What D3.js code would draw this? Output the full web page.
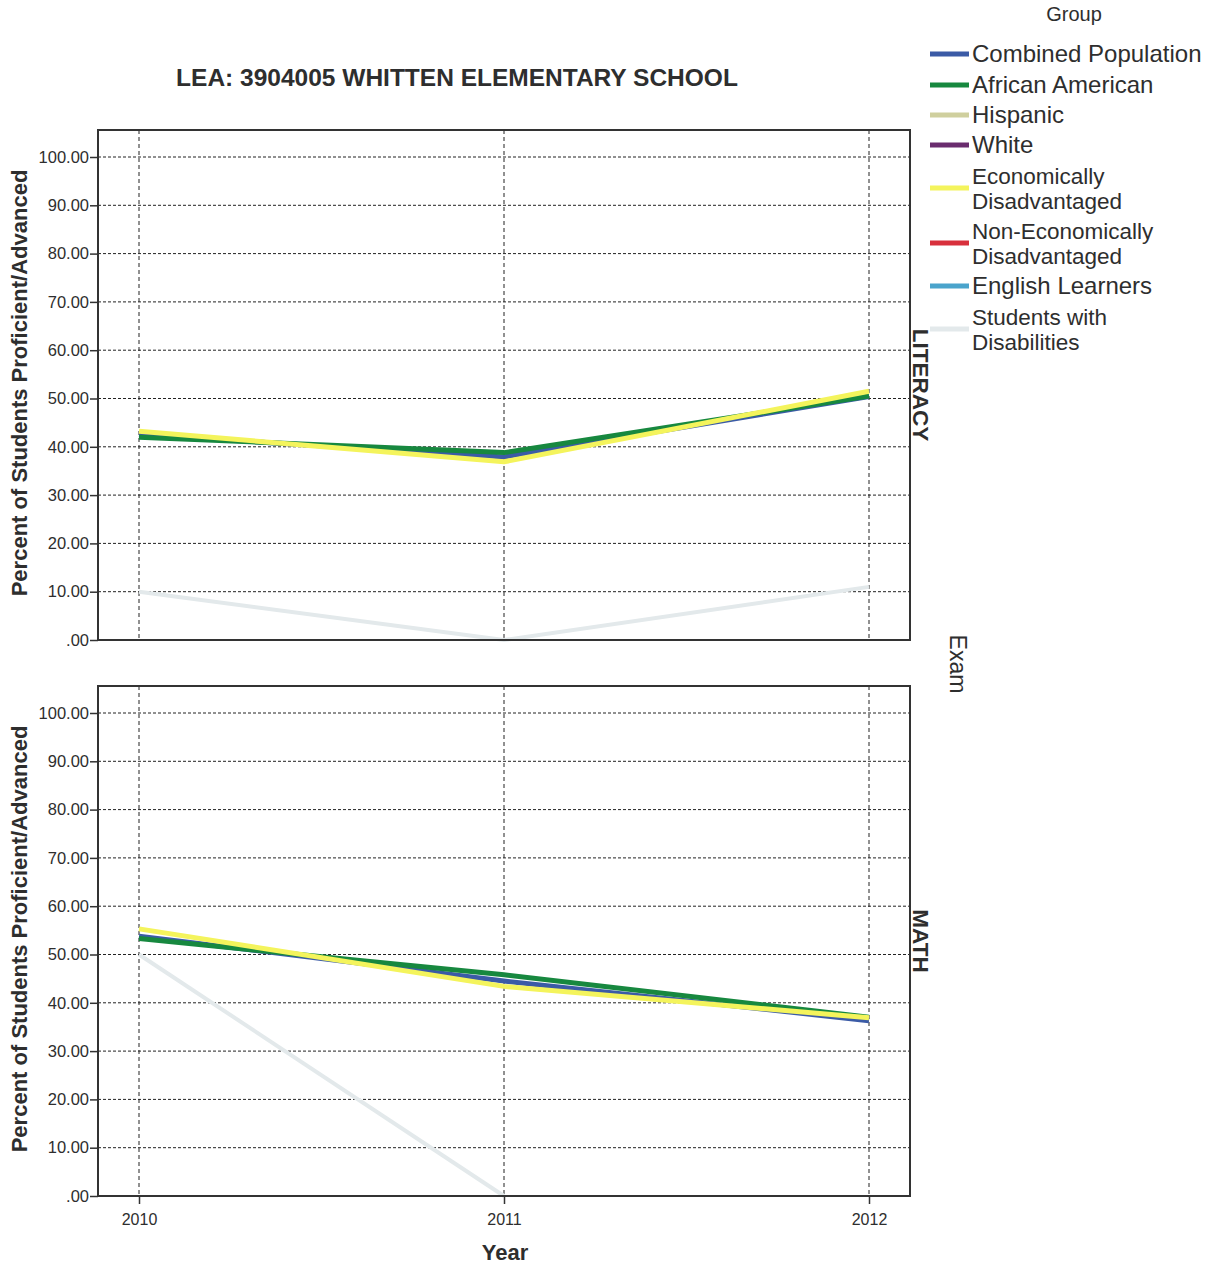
<!DOCTYPE html>
<html><head><meta charset="utf-8">
<script src="https://cdn.jsdelivr.net/npm/d3@7"></script>
<style>body{margin:0;background:#fff;font-family:"Liberation Sans",Arial,sans-serif;}</style>
</head><body><svg id="c" width="1217" height="1268"></svg>
<script>
const years = [2010, 2011, 2012];
const yTicks = [0,10,20,30,40,50,60,70,80,90,100];
const groups = ["Combined Population","African American","Hispanic","White","Economically Disadvantaged","Non-Economically Disadvantaged","English Learners","Students with Disabilities"];
const groupLegendLines = [["Combined Population"],["African American"],["Hispanic"],["White"],["Economically","Disadvantaged"],["Non-Economically","Disadvantaged"],["English Learners"],["Students with","Disabilities"]];
const groupColors = ["#3b5ba6","#17883f","#cfcf9e","#6a2c6e","#f4f45c","#d8303c","#4aa4cc","#e3e9eb"];
// values per exam; null = not reported
const literacyCombined = [42.5, 37.9, 50.4];
const literacyAfrAm = [42.0, 38.8, 50.5];
const literacyEcon = [43.2, 36.9, 51.5];
const literacySWD = [10.0, 0.0, 11.0];
const mathCombined = [53.8, 44.5, 36.3];
const mathAfrAm = [53.3, 45.8, 37.0];
const mathEcon = [55.3, 43.4, 36.9];
const mathSWD = [50.0, 0.0, null];
const panels = [
  {name:"LITERACY", top:130, series:[["Students with Disabilities",literacySWD],["Combined Population",literacyCombined],["African American",literacyAfrAm],["Economically Disadvantaged",literacyEcon]]},
  {name:"MATH", top:686, series:[["Students with Disabilities",mathSWD],["Combined Population",mathCombined],["African American",mathAfrAm],["Economically Disadvantaged",mathEcon]]}
];
const svg = d3.select("#c");
const color = d3.scaleOrdinal().domain(groups).range(groupColors);
const L = 98, R = 910, PH = 510;
const x = d3.scalePoint().domain(years).range([139, 869]);
const ink = "#2e2e2e";

svg.append("text").attr("x",457).attr("y",86).attr("text-anchor","middle")
  .attr("font-size",24.5).attr("font-weight","bold").attr("fill",ink).text("LEA: 3904005 WHITTEN ELEMENTARY SCHOOL");

panels.forEach((p,i)=>{
  const y = d3.scaleLinear().domain([0,100]).range([p.top+PH, p.top+27]);
  const g = svg.append("g");
  g.selectAll(".hg").data(yTicks.filter(t=>t>0)).join("line")
    .attr("x1",L).attr("x2",R).attr("y1",d=>y(d)).attr("y2",d=>y(d))
    .attr("stroke","#222").attr("stroke-width",1).attr("stroke-dasharray","3,2");
  g.selectAll(".vg").data(years).join("line")
    .attr("x1",d=>x(d)).attr("x2",d=>x(d)).attr("y1",p.top).attr("y2",p.top+PH)
    .attr("stroke","#222").attr("stroke-width",1).attr("stroke-dasharray","4,3");
  const line = d3.line().defined(d=>d[1]!=null).x(d=>x(d[0])).y(d=>y(d[1]));
  p.series.forEach(([name,vals])=>{
    g.append("path").attr("d", line(years.map((yr,k)=>[yr,vals[k]])))
      .attr("fill","none").attr("stroke",color(name))
      .attr("stroke-width", name==="Students with Disabilities"?4:5).attr("stroke-linejoin","round");
  });
  g.append("rect").attr("x",L).attr("y",p.top).attr("width",R-L).attr("height",PH)
    .attr("fill","none").attr("stroke","#333").attr("stroke-width",2);
  const ya = d3.axisLeft(y).tickValues(yTicks).tickSize(8).tickFormat(d=>d===0?".00":d3.format(".2f")(d));
  const ax = svg.append("g").attr("transform",`translate(${L},0)`).call(ya);
  ax.select(".domain").remove();
  ax.selectAll("line").attr("stroke","#333").attr("stroke-width",1.5);
  ax.selectAll("text").attr("font-size",16.5).attr("fill",ink).attr("font-family","Liberation Sans, Arial, sans-serif").attr("x",-9);
  svg.append("text").attr("transform",`translate(27,${p.top+PH/2-2}) rotate(-90)`).attr("text-anchor","middle")
    .attr("font-size",22).attr("font-weight","bold").attr("fill",ink).text("Percent of Students Proficient/Advanced");
  svg.append("text").attr("transform",`translate(913,${p.top+PH/2}) rotate(90)`).attr("text-anchor","middle")
    .attr("font-size",22.5).attr("font-weight","bold").attr("fill",ink).text(p.name);
  if(i===1){
    const xa = d3.axisBottom(x).tickSize(8).tickFormat(d3.format("d"));
    const xg = svg.append("g").attr("transform",`translate(0,${p.top+PH})`).call(xa);
    xg.select(".domain").remove();
    xg.selectAll("line").attr("stroke","#333").attr("stroke-width",1.5);
    xg.selectAll("text").attr("font-size",16).attr("fill",ink).attr("font-family","Liberation Sans Narrow, Liberation Sans, Arial, sans-serif").attr("dy","1.1em");
  }
});
svg.append("text").attr("x",505).attr("y",1260).attr("text-anchor","middle")
  .attr("font-size",22).attr("font-weight","bold").attr("fill",ink).text("Year");
svg.append("text").attr("transform","translate(950,664) rotate(90)").attr("text-anchor","middle")
  .attr("font-size",23).attr("fill",ink).text("Exam");

svg.append("text").attr("x",1074).attr("y",21).attr("text-anchor","middle").attr("font-size",20).attr("fill",ink).text("Group");
const rowY = [54,85,115,145,188,243,286,329];
groupLegendLines.forEach((lines,k)=>{
  const cy = rowY[k];
  svg.append("line").attr("x1",930).attr("x2",969).attr("y1",cy).attr("y2",cy)
    .attr("stroke",groupColors[k]).attr("stroke-width",5);
  if(lines.length===1){
    svg.append("text").attr("x",972).attr("y",cy+8).attr("font-size",24).attr("fill",ink).text(lines[0]);
  } else {
    svg.append("text").attr("x",972).attr("y",cy-4).attr("font-size",22.5).attr("fill",ink).text(lines[0]);
    svg.append("text").attr("x",972).attr("y",cy+21).attr("font-size",22.5).attr("fill",ink).text(lines[1]);
  }
});
</script></body></html>
